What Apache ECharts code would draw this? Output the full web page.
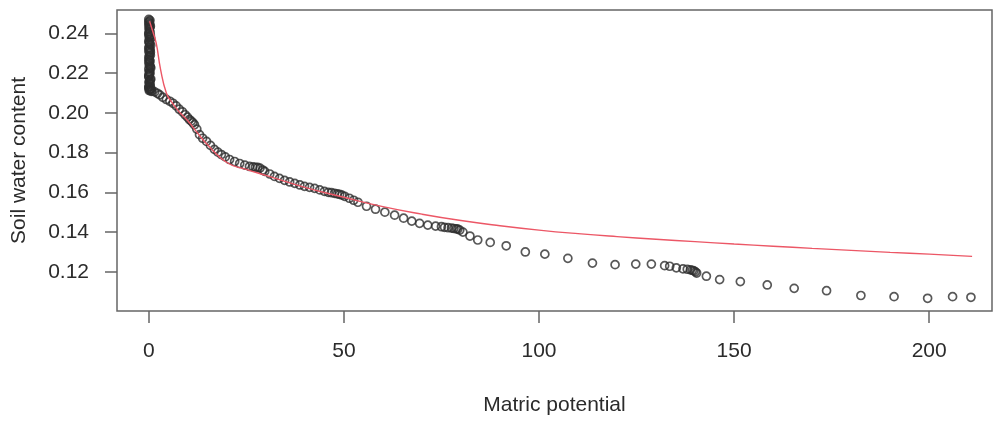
<!DOCTYPE html>
<html>
<head>
<meta charset="utf-8">
<script src="https://cdn.jsdelivr.net/npm/echarts@6/dist/echarts.min.js"></script>
<style>
  html, body { margin: 0; padding: 0; background: #fff; }
  #chart { width: 993px; height: 421px; }
</style>
</head>
<body>
<div id="chart"></div>
<script>
// observed points (matric potential, soil water content)
var obsPotential = [
  0, 0.1, 0.2, 0, 0.3, 0.1, 0.2, 0, 0.4, 0.1, 0.3, 0, 0.2, 0.5, 0.1, 0.3, 0, 0.2, 0.4, 0.1,
  0, 0.3, 0.2, 0.1, 0.4, 0, 0.2, 0.3, 0.1, 0, 0.5, 0.2, 0.1, 0.3, 0, 0.6, 0.2, 0.8,
  0.3, 0, 0.2, 0.4, 0.1, 0.3, 0, 0.2, 0.5, 0.1, 0.2, 0, 0.3, 0.4, 0.1, 0.2, 0, 0.3, 0.5, 0.1,
  0.2, 0, 0.4, 0.1, 0.3, 0.2, 0, 0.4, 0.1, 0.3, 0.6, 0.2,
  1.5, 2.2, 2.8, 3.6, 4.5, 5.4, 6.2, 7.0, 7.8, 8.6, 9.3, 9.9, 10.4, 10.9, 11.3, 11.7, 12.3, 13.0,
  13.8, 14.8, 15.8, 16.8, 17.7, 18.6, 19.6, 20.7, 22.0, 23.3, 24.6, 25.8, 26.7, 27.3, 27.9, 28.5,
  29.2, 29.7, 31.0, 32.2, 33.5, 34.8, 36.1, 37.4, 38.7, 39.9, 41.2, 42.5, 43.8, 45.0, 46.0, 46.8,
  47.6, 48.3, 48.9, 49.5, 50.2, 51.4, 52.5, 53.6, 55.8, 58.1, 60.5, 63.0, 65.3, 67.4, 69.4, 71.5,
  73.5, 75.0, 75.8, 76.7, 77.6, 78.2, 78.8, 79.2, 79.7, 80.5, 82.3, 84.3, 87.5, 91.6, 96.5, 101.5,
  107.4, 113.7, 119.5, 124.8, 128.8, 132.2, 133.5, 135.2, 136.9, 138.0, 138.8, 139.3, 139.7, 140.1,
  140.4, 142.9, 146.3, 151.6, 158.5, 165.4, 173.7, 182.5, 191.0, 199.6, 206.0, 210.7
]
var obsWater = [
  0.247, 0.246, 0.245, 0.244, 0.243, 0.242, 0.241, 0.240, 0.239, 0.238, 0.237, 0.236, 0.235, 0.234, 0.233, 0.232, 0.231, 0.230, 0.229, 0.228,
  0.227, 0.226, 0.225, 0.224, 0.223, 0.222, 0.221, 0.220, 0.219, 0.218, 0.217, 0.216, 0.215, 0.214, 0.213, 0.212, 0.2115, 0.211,
  0.2465, 0.2455, 0.2445, 0.2435, 0.2425, 0.2405, 0.2395, 0.2385, 0.2375, 0.2355, 0.2345, 0.2325, 0.2315, 0.2305, 0.2285, 0.2265, 0.2255, 0.2235, 0.2225, 0.2205,
  0.2195, 0.2185, 0.2165, 0.2155, 0.2145, 0.2135, 0.2125, 0.2118, 0.2112, 0.2122, 0.2108, 0.2132,
  0.2105, 0.2098, 0.209, 0.2078, 0.2067, 0.2058, 0.2048, 0.2035, 0.2018, 0.2005, 0.1990, 0.1978, 0.1966, 0.1958, 0.1950, 0.1940, 0.1918, 0.1890,
  0.1872, 0.1856, 0.1836, 0.1816, 0.1802, 0.1790, 0.1778, 0.1765, 0.1755, 0.1745, 0.1737, 0.1730, 0.1728, 0.1726, 0.1725, 0.1722,
  0.1712, 0.1705, 0.1692, 0.1680, 0.1670, 0.1660, 0.1652, 0.1645, 0.1637, 0.1630, 0.1625, 0.1620, 0.1612, 0.1605, 0.1600, 0.1598,
  0.1595, 0.1592, 0.1590, 0.1586, 0.1580, 0.1570, 0.1560, 0.1550, 0.1530, 0.1515, 0.1500, 0.1485, 0.1470, 0.1455, 0.1444, 0.1435,
  0.1430, 0.1427, 0.1424, 0.1422, 0.1420, 0.1418, 0.1416, 0.1415, 0.1410, 0.1400, 0.1380, 0.1360, 0.1348, 0.1331, 0.1300, 0.1289,
  0.1268, 0.1244, 0.1236, 0.1239, 0.1239, 0.1231, 0.1228, 0.1220, 0.1215, 0.1213, 0.1210, 0.1208, 0.1205, 0.1200,
  0.1194, 0.1178, 0.1161, 0.1151, 0.1134, 0.1117, 0.1105, 0.1081, 0.1075, 0.1067, 0.1075, 0.1072
]

// fitted curve
var fitPotential = [0.2, 1, 1.9, 3, 4.5, 6, 8, 10, 12, 15, 20, 25, 30, 40, 50, 60, 70, 80, 90, 100,
  110, 120, 130, 140, 150, 160, 170, 180, 190, 200, 211]
var fitWater = [0.246, 0.241, 0.235, 0.222, 0.210, 0.205, 0.200, 0.196, 0.191, 0.184, 0.175, 0.1715, 0.1685, 0.1625, 0.1575, 0.1528, 0.149, 0.1458, 0.1432, 0.1410,
  0.1392, 0.1377, 0.1364, 0.1352, 0.1340, 0.1329, 0.1318, 0.1308, 0.1298, 0.1289, 0.1278]

var xTicks = [0, 50, 100, 150, 200]
var yTicks = [0.12, 0.14, 0.16, 0.18, 0.20, 0.22, 0.24]

var chart = echarts.init(document.getElementById('chart'))

var txt = { color: '#2b2b2b', fontSize: 21, fontFamily: 'Liberation Sans, Arial, sans-serif' }

chart.setOption({
  animation: false,
  grid: {
    left: 117,
    top: 10,
    right: 1,
    bottom: 109,
    show: true,
    borderColor: '#666',
    borderWidth: 1.5
  },
  xAxis: {
    type: 'value',
    min: -8.15,
    max: 216.1,
    name: 'Matric potential',
    nameLocation: 'middle',
    nameGap: 84,
    nameTextStyle: txt,
    axisLine: { show: false, onZero: false },
    splitLine: { show: false },
    axisTick: {
      show: true,
      length: 12,
      customValues: xTicks,
      lineStyle: { color: '#666', width: 1.5 }
    },
    axisLabel: Object.assign({ margin: 30, customValues: xTicks }, txt)
  },
  yAxis: {
    type: 'value',
    min: 0.1003,
    max: 0.2517,
    name: 'Soil water content',
    nameLocation: 'middle',
    nameGap: 87,
    nameTextStyle: txt,
    axisLine: { show: false, onZero: false },
    splitLine: { show: false },
    axisTick: {
      show: true,
      length: 12,
      customValues: yTicks,
      lineStyle: { color: '#666', width: 1.5 }
    },
    axisLabel: Object.assign({
      margin: 28,
      padding: [8, 0, 0, 0],
      customValues: yTicks,
      formatter: function (v) { return v.toFixed(2) }
    }, txt)
  },
  series: [
    {
      type: 'scatter',
      data: obsPotential.map(function (p, i) { return [p, obsWater[i]] }),
      symbol: 'circle',
      symbolSize: 8,
      itemStyle: {
        color: 'rgba(0,0,0,0)',
        borderColor: '#2e2e2e',
        borderWidth: 1.7
      },
      z: 2
    },
    {
      type: 'line',
      data: fitPotential.map(function (p, i) { return [p, fitWater[i]] }),
      smooth: true,
      showSymbol: false,
      lineStyle: { color: '#ec5766', width: 1.4 },
      z: 3
    }
  ]
})
</script>
</body>
</html>
